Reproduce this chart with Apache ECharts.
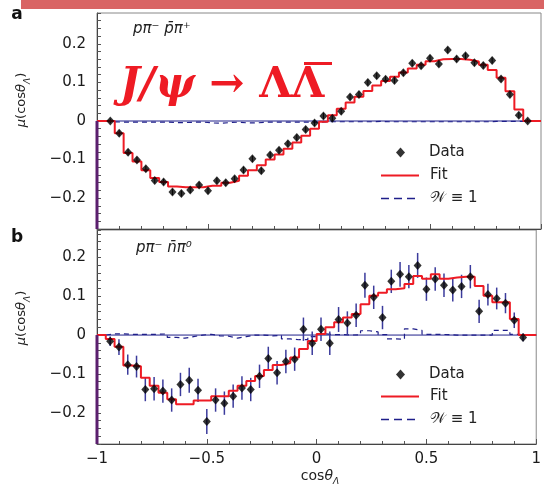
<!DOCTYPE html>
<html>
<head>
<meta charset="utf-8">
<script src="https://cdn.jsdelivr.net/npm/echarts@6/dist/echarts.min.js"></script>
<style>
html,body{margin:0;padding:0;background:#fff}
#chart{width:544px;height:485px}
</style>
</head>
<body>
<div id="chart"></div>
<script>
// Bin centres in cos(theta_Lambda), 0.04 wide
const binCentres = [-0.94,-0.90,-0.86,-0.82,-0.78,-0.74,-0.70,-0.66,-0.62,-0.58,-0.54,-0.50,
  -0.46,-0.42,-0.38,-0.34,-0.30,-0.26,-0.22,-0.18,-0.14,-0.10,-0.06,-0.02,
  0.02,0.06,0.10,0.14,0.18,0.22,0.26,0.30,0.34,0.38,0.42,0.46,0.50,0.54,
  0.58,0.62,0.66,0.70,0.74,0.78,0.82,0.86,0.90,0.94];
const binWidth = 0.04;

// Panel a: p pi- pbar pi+
const dataA = [0.000,-0.032,-0.081,-0.101,-0.124,-0.154,-0.158,-0.184,-0.188,-0.179,-0.166,-0.181,
  -0.155,-0.160,-0.150,-0.127,-0.098,-0.129,-0.088,-0.076,-0.059,-0.043,-0.022,-0.005,
  0.013,0.007,0.025,0.062,0.069,0.100,0.117,0.108,0.105,0.125,0.150,0.143,0.163,0.148,
  0.184,0.161,0.169,0.151,0.144,0.157,0.109,0.069,0.015,0.000];
const errA = [0.006,0.008,0.008,0.008,0.008,0.008,0.008,0.008,0.008,0.008,0.008,0.008,
  0.008,0.008,0.008,0.008,0.008,0.008,0.008,0.008,0.008,0.008,0.008,0.008,
  0.008,0.008,0.008,0.008,0.008,0.008,0.008,0.008,0.008,0.008,0.008,0.008,0.008,0.008,
  0.008,0.008,0.008,0.008,0.008,0.008,0.008,0.008,0.008,0.006];
const fitA = [0.000,-0.032,-0.083,-0.105,-0.128,-0.148,-0.158,-0.170,-0.172,-0.172,-0.172,-0.168,
  -0.168,-0.160,-0.155,-0.142,-0.128,-0.115,-0.100,-0.087,-0.072,-0.056,-0.038,-0.020,
  -0.002,0.015,0.032,0.048,0.063,0.078,0.092,0.104,0.115,0.126,0.136,0.146,0.155,0.160,
  0.161,0.161,0.159,0.154,0.146,0.132,0.112,0.077,0.030,0.000];
const flatA = [-0.002,-0.003,-0.003,-0.003,-0.003,-0.003,-0.003,-0.004,-0.004,-0.003,-0.003,-0.005,
  -0.006,-0.004,-0.003,-0.005,-0.005,-0.003,-0.003,-0.003,-0.003,-0.003,-0.003,-0.003,
  -0.002,-0.002,-0.002,-0.002,-0.002,-0.002,-0.001,-0.002,-0.002,-0.002,-0.002,-0.002,-0.002,-0.002,
  -0.002,-0.002,-0.002,-0.002,-0.002,-0.001,-0.001,-0.001,-0.001,0.000];

// Panel b: p pi- nbar pi0
const dataB = [-0.016,-0.031,-0.076,-0.081,-0.140,-0.138,-0.144,-0.167,-0.127,-0.116,-0.142,-0.222,
  -0.167,-0.175,-0.157,-0.136,-0.140,-0.106,-0.060,-0.097,-0.068,-0.062,0.015,-0.021,
  0.015,-0.021,0.040,0.031,0.051,0.128,0.097,0.045,0.138,0.156,0.150,0.179,0.118,0.144,
  0.128,0.116,0.125,0.150,0.061,0.104,0.094,0.082,0.038,-0.006];
const errB = [0.012,0.020,0.026,0.028,0.030,0.030,0.030,0.030,0.030,0.032,0.030,0.032,
  0.030,0.030,0.030,0.030,0.030,0.030,0.030,0.030,0.030,0.030,0.030,0.030,
  0.030,0.030,0.032,0.030,0.030,0.032,0.030,0.030,0.030,0.032,0.030,0.032,0.030,0.030,
  0.030,0.030,0.030,0.030,0.030,0.028,0.028,0.026,0.020,0.010];
const fitB = [-0.010,-0.030,-0.078,-0.080,-0.110,-0.130,-0.148,-0.165,-0.178,-0.178,-0.168,-0.168,
  -0.157,-0.157,-0.143,-0.130,-0.118,-0.105,-0.090,-0.077,-0.072,-0.058,-0.036,-0.015,
  0.003,0.020,0.033,0.045,0.054,0.079,0.101,0.109,0.118,0.120,0.131,0.152,0.145,0.156,
  0.145,0.148,0.150,0.150,0.126,0.101,0.084,0.084,0.041,0.000];
const flatB = [0.003,0.003,0.002,0.002,0.002,0.002,0.003,-0.006,-0.008,-0.004,0.000,0.002,
  -0.002,-0.003,-0.008,-0.004,0.000,0.000,-0.002,-0.001,-0.010,-0.012,-0.012,-0.004,
  0.003,0.001,0.001,0.000,0.001,0.011,0.008,0.001,-0.010,-0.011,0.016,0.012,0.002,0.002,
  0.001,0.000,0.000,0.000,0.000,0.000,0.012,0.012,0.002,0.000];

const xTicks = { min: -1, max: 1, step: 0.5 };
const yRangeA = { min: -0.28, max: 0.28 };
const yRangeB = { min: -0.28, max: 0.27 };

const FONT = '"DejaVu Sans", "Liberation Sans", sans-serif';
const SERIF = '"DejaVu Serif", "Liberation Serif", serif';
const RED = '#ee1b24';
const NAVY = '#1f1f8a';
const PURPLE = '#5b1f6e';

function minus(s) { return String(s).replace('-', '\u2212'); }

// Histogram outline from bin contents: flat at zero outside the filled range
function stepPoints(vals) {
  const pts = [[xTicks.min, 0]];
  vals.forEach((v, i) => pts.push([binCentres[i] - binWidth / 2, v]));
  const last = binCentres[binCentres.length - 1] + binWidth / 2;
  pts.push([last, vals[vals.length - 1]]);
  pts.push([last, 0]);
  pts.push([xTicks.max, 0]);
  return pts;
}
function pairs(vals) { return vals.map((v, i) => [binCentres[i], v]); }
function errTriples(vals, errs) { return vals.map((v, i) => [binCentres[i], v - errs[i], v + errs[i]]); }

function errorBars(idx, color, width) {
  return {
    type: 'custom', xAxisIndex: idx, yAxisIndex: idx, silent: true, z: 3,
    data: errTriples(idx === 0 ? dataA : dataB, idx === 0 ? errA : errB),
    renderItem: function (params, api) {
      const lo = api.coord([api.value(0), api.value(1)]);
      const hi = api.coord([api.value(0), api.value(2)]);
      return { type: 'line', shape: { x1: lo[0], y1: lo[1], x2: hi[0], y2: hi[1] },
        style: { stroke: color, lineWidth: width } };
    }
  };
}

function panelSeries(idx, data, fit, flat, yr, errColor, errWidth) {
  return [
    { type: 'line', xAxisIndex: idx, yAxisIndex: idx, silent: true, symbol: 'none', z: 1,
      data: [[xTicks.min, 0], [xTicks.max, 0]], lineStyle: { color: NAVY, width: 1 } },
    { name: 'W\u22611', type: 'line', xAxisIndex: idx, yAxisIndex: idx, step: 'end', symbol: 'none', silent: true, z: 2,
      data: stepPoints(flat), color: NAVY, lineStyle: { color: NAVY, width: 1.2, type: [5, 4] } },
    { name: 'Fit', type: 'line', xAxisIndex: idx, yAxisIndex: idx, step: 'end', symbol: 'none', silent: true, z: 4,
      data: stepPoints(fit), color: RED, lineStyle: { color: RED, width: 2 } },
    errorBars(idx, errColor, errWidth),
    { name: 'Data', type: 'scatter', xAxisIndex: idx, yAxisIndex: idx, silent: true, z: 5,
      symbol: 'diamond', symbolSize: [8, 9], data: pairs(data), itemStyle: { color: '#000' } },
    { type: 'line', xAxisIndex: idx, yAxisIndex: idx, silent: true, symbol: 'none', clip: false, z: 6,
      data: [[xTicks.min, 0], [xTicks.min, yr.min]], lineStyle: { color: PURPLE, width: 3 } }
  ];
}

function yAxis(idx, yr) {
  return {
    type: 'value', gridIndex: idx, min: yr.min, max: yr.max, interval: 0.02,
    axisLine: { show: true, onZero: false, lineStyle: { color: '#444', width: 1 } },
    axisTick: { show: true, inside: true, length: 4, lineStyle: { color: '#555' } },
    splitLine: { show: false },
    axisLabel: {
      interval: 0, margin: 11, color: '#1a1a1a', fontFamily: FONT, fontSize: 15,
      formatter: function (v) {
        const t = v * 10;
        if (Math.abs(t - Math.round(t)) > 1e-6) return '';
        const r = Math.round(t) / 10;
        if (r === 0) return '0';
        return minus(r.toFixed(1));
      }
    }
  };
}

function xAxis(idx, showLabels) {
  return {
    type: 'value', gridIndex: idx, min: xTicks.min, max: xTicks.max, interval: xTicks.step,
    axisLine: { show: true, onZero: false, lineStyle: { color: '#444', width: 1 } },
    axisTick: { show: true, inside: true, length: 5, lineStyle: { color: '#555' } },
    minorTick: { show: true, splitNumber: 5, length: 3, lineStyle: { color: '#555' } },
    splitLine: { show: false },
    axisLabel: {
      show: showLabels, margin: 8, color: '#1a1a1a', fontFamily: FONT, fontSize: 15,
      formatter: function (v) { return v === 0 ? '0' : minus(String(v)); }
    }
  };
}

function legends(dataTop, lineTop) {
  const text = { fontFamily: FONT, fontSize: 15, color: '#222' };
  return [
    { selectedMode: false, padding: 0, data: ['Data'], left: 396, top: dataTop, itemWidth: 9, itemHeight: 10,
      textStyle: Object.assign({}, text, { padding: [0, 0, 0, 19], lineHeight: 10 }) },
    { selectedMode: false, padding: 0,
      data: ['Fit', { name: 'W\u22611', lineStyle: { type: [8, 5], width: 1.5 } }],
      orient: 'vertical', left: 380, top: lineTop,
      itemWidth: 38, itemHeight: 14, itemGap: 8, itemStyle: { opacity: 0 },
      formatter: function (n) { return n === 'Fit' ? 'Fit' : '{w|\uD835\uDCB2} \u2261 1'; },
      textStyle: Object.assign({}, text, { padding: [0, 0, 0, 6], lineHeight: 14,
        rich: { w: { fontFamily: FONT, fontSize: 15, color: '#222' } } }) }
  ];
}

function axisName(x, y) {
  return {
    type: 'text', x: x, y: y, rotation: Math.PI / 2, silent: true,
    style: {
      text: '{i|\u03bc}(cos{i|\u03b8}{s|\u039b})', align: 'center', verticalAlign: 'middle',
      fill: '#222', font: '13px ' + FONT,
      rich: {
        i: { fontFamily: FONT, fontSize: 13, fontStyle: 'italic', lineHeight: 20 },
        s: { fontFamily: FONT, fontSize: 9, fontStyle: 'italic', verticalAlign: 'bottom', lineHeight: 20 }
      }
    }
  };
}

const chart = echarts.init(document.getElementById('chart'), null, { renderer: 'canvas' });
chart.setOption({
  animation: false,
  backgroundColor: '#fff',
  grid: [
    { left: 97, top: 13, width: 444, height: 216, show: true, borderColor: '#888', borderWidth: 1 },
    { left: 97, top: 230, width: 444, height: 214, show: true, borderColor: '#888', borderWidth: 1 }
  ],
  xAxis: [xAxis(0, false), xAxis(1, true)],
  yAxis: [yAxis(0, yRangeA), yAxis(1, yRangeB)],
  legend: legends(145, 168).concat(legends(367, 389)),
  series: panelSeries(0, dataA, fitA, flatA, yRangeA, '#111', 1)
    .concat(panelSeries(1, dataB, fitB, flatB, yRangeB, '#3b3b9c', 1.5)),
  graphic: [
    { type: 'rect', shape: { x: 21, y: 0, width: 523, height: 9 }, style: { fill: '#d96464' }, silent: true },
    { type: 'text', x: 17, y: 15, silent: true,
      style: { text: 'a', font: 'bold 17px ' + FONT, fill: '#111', align: 'center', verticalAlign: 'middle' } },
    { type: 'text', x: 17, y: 238, silent: true,
      style: { text: 'b', font: 'bold 17px ' + FONT, fill: '#111', align: 'center', verticalAlign: 'middle' } },
    { type: 'text', x: 133, y: 29, silent: true,
      style: { text: 'p\u03c0\u207b p\u0304\u03c0\u207a', font: 'italic 15px ' + FONT, fill: '#222', align: 'left', verticalAlign: 'middle' } },
    { type: 'text', x: 136, y: 248, silent: true,
      style: { text: 'p\u03c0\u207b n\u0304\u03c0\u2070', font: 'italic 15px ' + FONT, fill: '#222', align: 'left', verticalAlign: 'middle' } },
    axisName(22, 100),
    axisName(22, 318),
    { type: 'text', x: 320, y: 476, silent: true,
      style: { text: 'cos{i|\u03b8}{s|\u039b}', align: 'center', verticalAlign: 'middle', fill: '#222', font: '14px ' + FONT,
        rich: { i: { fontFamily: FONT, fontSize: 14, fontStyle: 'italic', lineHeight: 20 },
                s: { fontFamily: FONT, fontSize: 9, fontStyle: 'italic', verticalAlign: 'bottom', lineHeight: 20 } } } },
    { type: 'text', x: 120, y: 86, silent: true, z: 100,
      style: { text: '{a|J/\u03c8}{b| \u2192 \u039b\u039b}', align: 'left', verticalAlign: 'middle', fill: RED,
        rich: { a: { fontFamily: SERIF, fontSize: 42, fontWeight: 'bold', fontStyle: 'italic', fill: RED },
                b: { fontFamily: SERIF, fontSize: 42, fontWeight: 'bold', fill: RED } } } },
    { type: 'rect', shape: { x: 304, y: 62, width: 28, height: 3 }, style: { fill: RED }, silent: true, z: 100 }
  ]
});
</script>
</body>
</html>
